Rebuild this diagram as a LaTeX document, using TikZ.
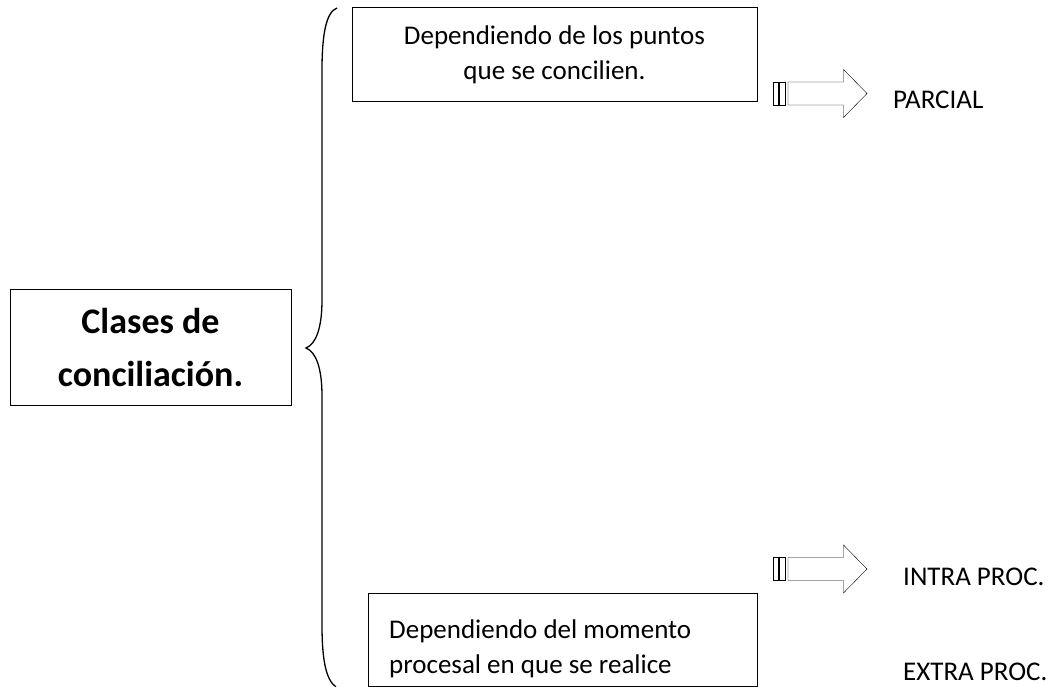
\documentclass[tikz,border=0pt]{standalone}
\usepackage{fontspec}
\setmainfont{Carlito}

\tikzset{
    box/.style={draw, line width=1pt, inner sep=0pt},
    txt/.style={inner sep=0pt, font=\fontsize{27}{35}\selectfont},
    flecha/.pic={
        % two bars, then the hollow arrow
        \draw[fill=white] (0,-11.5) rectangle (5.5,11.5);
        \draw[fill=white] (6.5,-11.5) rectangle (12,11.5);
        \draw[fill=white] (15,-11.5) -- (70.5,-11.5) -- (70.5,-24) -- (94,0)
              -- (70.5,24) -- (70.5,11.5) -- (15,11.5) -- cycle;
    }
}

\begin{document}
\begin{tikzpicture}[x=1pt, y=-1pt, line join=miter]
    \useasboundingbox (0,0) rectangle (1058,687);

    % Title box
    \node[box, minimum width=281pt, minimum height=115pt, align=center,
          font=\fontsize{36}{53}\selectfont\bfseries] (clases) at (150.5,347.5)
          {Clases de\\conciliaci\'on.};

    % Brace
    \draw[line width=1.3pt] (337,8) .. controls (326,12) and (322,35) .. (322,70)
        -- (322,300) .. controls (322,328) and (316,344) .. (306,348)
        .. controls (316,352) and (322,368) .. (322,396)
        -- (322,625) .. controls (322,660) and (326,680) .. (336,687);

    % Upper branch
    \node[box, txt, minimum width=405pt, minimum height=94pt, align=center]
          (puntos) at (554.5,55) {Dependiendo de los puntos\\que se concilien.};
    \pic at (773,93.5) {flecha};
    \node[txt, anchor=base west] (parcial) at (893,109) {PARCIAL};

    % Lower branch
    \node[box, minimum width=389pt, minimum height=93pt] (momento) at (562.5,639.5) {};
    \node[txt, anchor=west, align=left] (momentotxt) at (389,649)
          {Dependiendo del momento\\procesal en que se realice};
    \pic at (773,569) {flecha};
    \node[txt, anchor=base west] (intra) at (903,585) {INTRA PROC.};
    \node[txt, anchor=base west] (extra) at (903,680) {EXTRA PROC.};
\end{tikzpicture}
\end{document}
